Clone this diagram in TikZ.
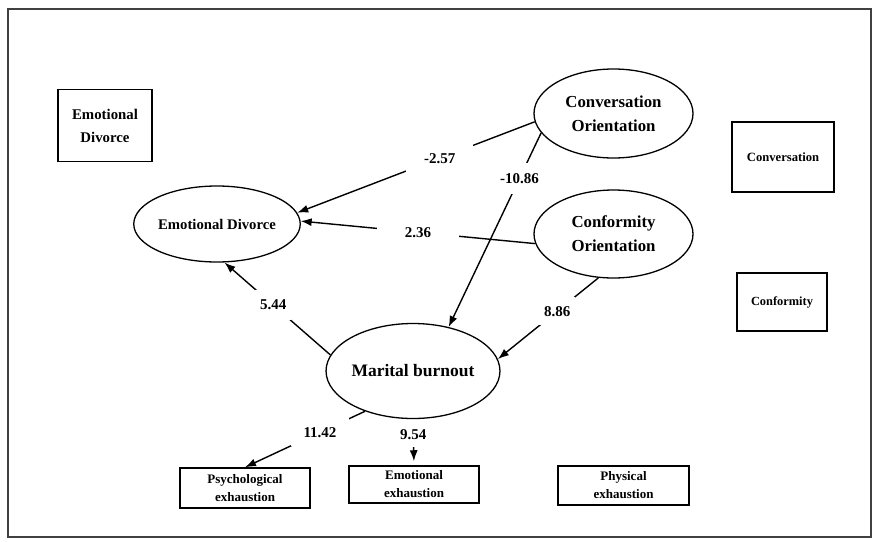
\documentclass[tikz,border=0pt]{standalone}
\usepackage{fontspec}
\setmainfont{Liberation Serif}
\usetikzlibrary{shapes.geometric,arrows.meta}

\tikzset{
  latent/.style={ellipse, draw, line width=1.3pt, inner sep=0pt, align=center},
  observed/.style={rectangle, draw, line width=1.5pt, inner sep=0pt, align=center},
  effect/.style={line width=1.4pt, -{Latex[length=11pt,width=8pt]}},
  coef/.style={fill=white, inner xsep=5pt, inner ysep=9pt,
    font=\bfseries\fontsize{15}{18}\selectfont}
}

\begin{document}
\begin{tikzpicture}[x=1pt,y=-1pt]
\useasboundingbox (0,0) rectangle (874,541);
\draw[line width=1.5pt, black!75] (8,9) rectangle (871,537);

% latent variables
\node[latent, minimum width=160pt, minimum height=76pt,
  font=\bfseries\fontsize{14.7}{18}\selectfont] (emodiv) at (217,224) {Emotional Divorce};
\node[latent, minimum width=159pt, minimum height=89pt,
  font=\bfseries\fontsize{16.8}{24}\selectfont] (convor) at (613.5,113.5) {Conversation\\Orientation};
\node[latent, minimum width=159pt, minimum height=88pt,
  font=\bfseries\fontsize{16.8}{24}\selectfont] (confor) at (613.5,234) {Conformity\\Orientation};
\node[latent, minimum width=161pt, minimum height=95pt,
  font=\bfseries\fontsize{17.5}{21}\selectfont] (burnout) at (413,371) {Marital burnout};

% observed variables
\node[observed, minimum width=94pt, minimum height=72pt,
  font=\bfseries\fontsize{14.8}{23}\selectfont] (edbox) at (105,125.5) {Emotional\\Divorce};
\node[observed, minimum width=102pt, minimum height=70pt,
  font=\bfseries\fontsize{12.6}{16}\selectfont] (convbox) at (783,157) {Conversation};
\node[observed, minimum width=90pt, minimum height=58pt,
  font=\bfseries\fontsize{12.4}{16}\selectfont] (confbox) at (782,302) {Conformity};
\node[observed, minimum width=130pt, minimum height=40pt,
  font=\bfseries\fontsize{13}{18}\selectfont] (psyex) at (245,488) {Psychological\\exhaustion};
\node[observed, minimum width=130pt, minimum height=37pt,
  font=\bfseries\fontsize{13}{18}\selectfont] (emoex) at (414,484.5) {Emotional\\exhaustion};
\node[observed, minimum width=131pt, minimum height=39pt,
  font=\bfseries\fontsize{13}{18}\selectfont] (physex) at (623.5,485.5) {Physical\\exhaustion};

% paths
\draw[effect] (convor.186) -- node[coef, pos=0.40, inner xsep=18pt] {-2.57} (emodiv.8);
\draw[effect] (confor.187) -- node[coef, pos=0.50, inner xsep=28pt, inner ysep=4pt] {2.36} (emodiv.2);
\draw[effect] (convor.195) -- node[coef, pos=0.235, inner ysep=10.4pt, inner xsep=2pt] {-10.86} (burnout.51);
\draw[effect] (confor.251) -- node[coef, pos=0.41] {8.86} (burnout.8);
\draw[effect] (burnout.169) -- node[coef, pos=0.54, inner ysep=9.5pt] {5.44} (emodiv.281);
\draw[effect] (burnout.220) -- node[coef, pos=0.375, inner xsep=13pt] {11.42} (psyex.north);
\draw[effect, shorten <=3pt, shorten >=4pt] (burnout.south) -- node[coef, pos=0.33, inner ysep=8pt] {9.54} (emoex.north);
\end{tikzpicture}
\end{document}
